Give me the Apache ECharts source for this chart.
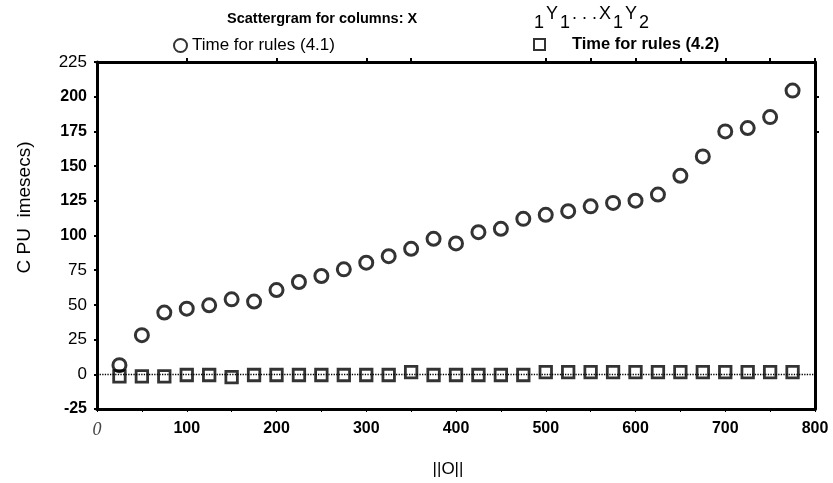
<!DOCTYPE html>
<html>
<head>
<meta charset="utf-8">
<script src="https://cdn.jsdelivr.net/npm/echarts@6/dist/echarts.min.js"></script>
<style>
  html, body { margin: 0; padding: 0; background: #fff; }
  #chart { width: 833px; height: 483px; }
</style>
</head>
<body>
<div id="chart"></div>
<script>
// Problem sizes (x) shared by both timing series
const problemSizes = [25, 50, 75, 100, 125, 150, 175, 200, 225, 250, 275, 300, 325, 350, 375,
  400, 425, 450, 475, 500, 525, 550, 575, 600, 625, 650, 675, 700, 725, 750, 775];

// CPU time for rules (4.1)
const timeRules41 = [6.6, 28.2, 44.5, 47.3, 49.7, 54, 52.4, 60.7, 66.5, 70.8, 75.6, 80.4, 85.1, 90.4, 97.6,
  94.3, 102.4, 104.8, 112, 114.9, 117.5, 121, 123.5, 125.1, 129.5, 143, 157, 175, 177.4, 185.3, 204.4];

// CPU time for rules (4.2)
const timeRules42 = [-1.5, -1.5, -1.5, -0.5, -0.5, -2, -0.5, -0.5, -0.5, -0.5, -0.5, -0.5, -0.5, 1.5, -0.5,
  -0.5, -0.5, -0.5, -0.5, 1.5, 1.5, 1.5, 1.5, 1.5, 1.5, 1.5, 1.5, 1.5, 1.5, 1.5, 1.5];

const seriesNames = ['Time for rules (4.1)', 'Time for rules (4.2)'];
const yBoldTicks = [200, 175, 150, 125, 100, -25];
const topTickValues = [100, 200, 300, 350, 500, 550, 600, 650, 700, 750, 800];
const rightTickValues = [175, 200];

const FONT = '"Liberation Sans", Arial, sans-serif';

const chart = echarts.init(document.getElementById('chart'), null, { renderer: 'canvas' });

const pairs = (ys) => problemSizes.map((x, i) => [x, ys[i]]);

// shared frame-line style for the four sides of the plot
const frameLine = { show: true, onZero: false, lineStyle: { color: '#000', width: 3 } };

chart.setOption({
  backgroundColor: '#fff',
  animation: false,
  title: [
    {
      text: 'Scattergram for columns: X',
      left: 227, top: 11, padding: 0,
      textStyle: { fontFamily: FONT, fontSize: 14.5, fontWeight: 'bold', color: '#000' }
    },
    {
      // letters sit high, index digits sit low
      text: '{sp|}{d|1}{l|Y}{d|1}{l|. . .}{l|X}{d|1}{l|Y}{d|2}',
      left: 533, top: 5, padding: 0,
      textStyle: {
        fontFamily: FONT, fontWeight: 'normal', color: '#000',
        rich: {
          sp: { width: 0, lineHeight: 27 },
          l: { fontFamily: FONT, fontWeight: 'normal', fontSize: 18, lineHeight: 18, verticalAlign: 'top', padding: [0, 1, 0, 1], color: '#000' },
          d: { fontFamily: FONT, fontWeight: 'normal', fontSize: 18, lineHeight: 18, verticalAlign: 'bottom', padding: [0, 1, 0, 1], color: '#000' }
        }
      }
    }
  ],
  legend: [
    {
      data: [seriesNames[0]],
      left: 168, top: 32,
      itemWidth: 13, itemHeight: 13,
      textStyle: { fontFamily: FONT, fontSize: 17, color: '#000' }
    },
    {
      data: [seriesNames[1]],
      left: 528, top: 31,
      itemWidth: 11, itemHeight: 11,
      textStyle: { fontFamily: FONT, fontSize: 16.5, fontWeight: 'bold', color: '#000', padding: [0, 0, 0, 22] }
    }
  ],
  grid: { left: 97, right: 18, top: 62, bottom: 73, containLabel: false },
  xAxis: [
    {
      type: 'value', position: 'bottom',
      min: 0, max: 800, interval: 100,
      name: '||O||', nameLocation: 'middle', nameGap: 52,
      nameTextStyle: { fontFamily: FONT, fontSize: 17, color: '#000', padding: [0, 16, 0, 0] },
      axisLine: frameLine,
      axisTick: { show: true, length: 3, lineStyle: { color: '#000', width: 1 } },
      minorTick: { show: true, splitNumber: 2, length: 3, lineStyle: { color: '#000', width: 1 } },
      splitLine: { show: false },
      axisLabel: {
        margin: 12,
        formatter: (v) => (v === 0 ? '{z|0}' : '{b|' + v + '}'),
        rich: {
          z: { fontFamily: '"Liberation Serif", serif', fontStyle: 'italic', fontSize: 18, color: '#444' },
          b: { fontFamily: FONT, fontSize: 16, fontWeight: 'bold', color: '#000' }
        }
      }
    },
    {
      type: 'value', position: 'top',
      min: 0, max: 800, interval: 100,
      axisLine: frameLine,
      axisTick: { show: true, length: 4, customValues: topTickValues, lineStyle: { color: '#000', width: 2 } },
      axisLabel: { show: false },
      splitLine: { show: false }
    }
  ],
  yAxis: [
    {
      type: 'value', position: 'left',
      min: -25, max: 225, interval: 25,
      name: 'C PU  imesecs)', nameLocation: 'middle', nameGap: 63, nameRotate: 90,
      nameTextStyle: { fontFamily: FONT, fontSize: 19, color: '#000', padding: [0, 0, 0, 56] },
      axisLine: frameLine,
      axisTick: { show: true, length: 3, lineStyle: { color: '#000', width: 2 } },
      splitLine: { show: false },
      axisLabel: {
        margin: 10,
        formatter: (v) => (yBoldTicks.includes(v) ? '{b|' + v + '}' : '{r|' + v + '}'),
        rich: {
          b: { fontFamily: FONT, fontSize: 16, fontWeight: 'bold', color: '#000' },
          r: { fontFamily: FONT, fontSize: 17, color: '#000' }
        }
      }
    },
    {
      type: 'value', position: 'right',
      min: -25, max: 225, interval: 25,
      axisLine: frameLine,
      axisTick: { show: true, length: 4, customValues: rightTickValues, lineStyle: { color: '#000', width: 2 } },
      axisLabel: { show: false },
      splitLine: { show: false }
    }
  ],
  series: [
    {
      name: seriesNames[1],
      type: 'scatter',
      symbol: 'rect', symbolSize: 11.5,
      itemStyle: { color: '#fff', borderColor: '#000', borderWidth: 2.8 },
      data: pairs(timeRules42),
      z: 2,
      markLine: {
        silent: true, symbol: 'none', label: { show: false },
        lineStyle: { color: '#000', type: 'dotted', width: 1.3 },
        data: [{ yAxis: 0 }]
      }
    },
    {
      name: seriesNames[0],
      type: 'scatter',
      symbol: 'circle', symbolSize: 13,
      itemStyle: { color: 'rgba(255,255,255,0)', borderColor: '#000', borderWidth: 3 },
      data: pairs(timeRules41),
      z: 3
    }
  ]
});
</script>
</body>
</html>
